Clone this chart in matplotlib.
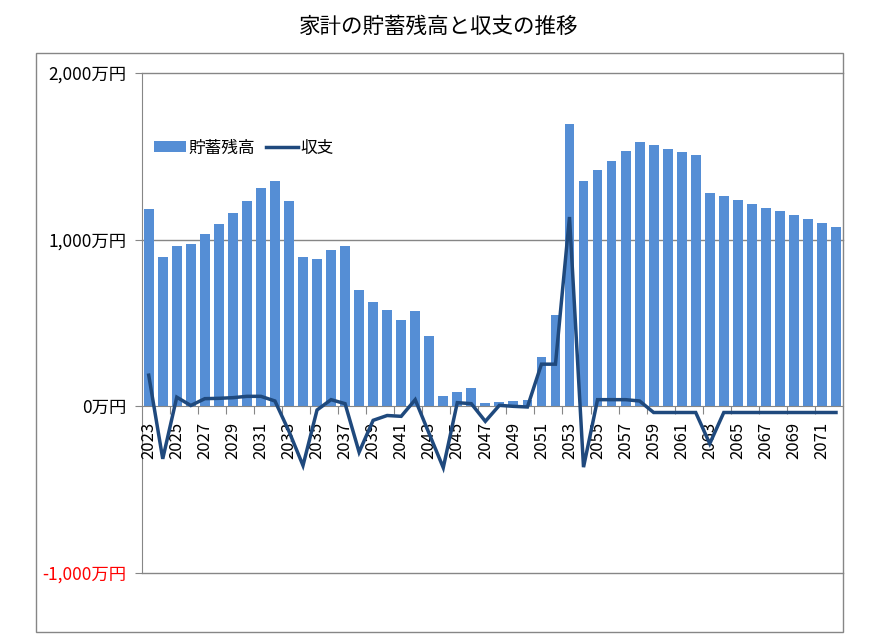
import matplotlib
matplotlib.use("Agg")
import matplotlib.pyplot as plt
from matplotlib.patches import Rectangle
import numpy as np

plt.rcParams['font.family'] = ['Noto Sans CJK JP', 'DejaVu Sans']

years = list(range(2023, 2073))
savings = [1187, 898, 964, 976, 1036, 1096, 1163, 1235, 1313, 1355,
           1235, 898, 886, 940, 964, 699, 627, 578, 518, 572,
           422, 60, 84, 108, 18, 24, 30, 36, 297, 548,
           1693, 1355, 1416, 1470, 1530, 1584, 1566, 1542, 1524, 1506,
           1283, 1265, 1241, 1217, 1193, 1175, 1151, 1127, 1102, 1078]
balance = [187, -315, 55, 5, 46, 48, 52, 60, 60, 32,
           -150, -355, -22, 40, 16, -275, -84, -55, -60, 40,
           -165, -368, 22, 16, -90, 6, 0, -4, 253, 253,
           1136, -365, 40, 40, 40, 32, -37, -37, -37, -37,
           -224, -37, -37, -37, -37, -37, -37, -37, -37, -37]
ytick_vals = [-1000, 0, 1000, 2000]
ytick_labels = ['-1,000万円', '0万円', '1,000万円', '2,000万円']
title = '家計の貯蓄残高と収支の推移'
legend_labels = ['貯蓄残高', '収支']

W, H = 877, 642
fig = plt.figure(figsize=(W / 100, H / 100), dpi=100)
ax = fig.add_axes([141.7 / W, 1 - 573 / H, (843 - 141.7) / W, (573 - 73) / H])

gray = '#868686'
x = np.arange(len(years))
bars = ax.bar(x, savings, width=0.7, color='#558ED5', zorder=2, label=legend_labels[0])
line, = ax.plot(x, balance, color='#1F497D', lw=2.5, zorder=4, label=legend_labels[1],
                solid_joinstyle='miter', clip_on=False)

ax.set_xlim(-0.5, len(years) - 0.5)
ax.set_ylim(-1000, 2000)

# gridlines
for v in ytick_vals:
    if v != 0:
        ax.axhline(v, color=gray, lw=1, zorder=1, clip_on=False)

for s in ['top', 'right']:
    ax.spines[s].set_visible(False)
ax.spines['left'].set_color(gray)
ax.spines['left'].set_zorder(1)
ax.spines['bottom'].set_position(('data', 0))
ax.spines['bottom'].set_color(gray)
ax.spines['bottom'].set_zorder(3)

ax.set_yticks(ytick_vals)
ax.set_yticklabels(ytick_labels, fontsize=12.5)
ax.tick_params(axis='y', length=5, color=gray, pad=6)
for lab, v in zip(ax.get_yticklabels(), ytick_vals):
    lab.set_color('#FF0000' if v < 0 else '#000000')

# x ticks: marks at every other category boundary, labels at every other category
ax.set_xticks(np.arange(1.5, len(years) - 0.5, 2))
ax.set_xticklabels([])
ax.tick_params(axis='x', which='major', length=6, color=gray, direction='out')
ax.set_xticks(x[::2], minor=True)
ax.set_xticklabels([str(y) for y in years[::2]], minor=True, rotation=90, fontsize=12)
ax.tick_params(axis='x', which='minor', length=0, pad=11)

fig.suptitle(title, y=1 - 27 / H, va='center', fontsize=15.5)

# chart border
fig.patches.append(Rectangle((36 / W, 1 - 632 / H), (843 - 36) / W, (632 - 53) / H,
                             transform=fig.transFigure, fill=False, edgecolor=gray, lw=1))

leg = ax.legend(handles=[bars, line], labels=legend_labels, ncol=2, frameon=False,
                loc='center left', bbox_to_anchor=(154 / W, 1 - 148 / H),
                bbox_transform=fig.transFigure, fontsize=12, handlelength=1.9,
                handletextpad=0.15, columnspacing=0.7, borderpad=0, borderaxespad=0,
                handleheight=0.6)

fig.savefig('out.png', dpi=100)
